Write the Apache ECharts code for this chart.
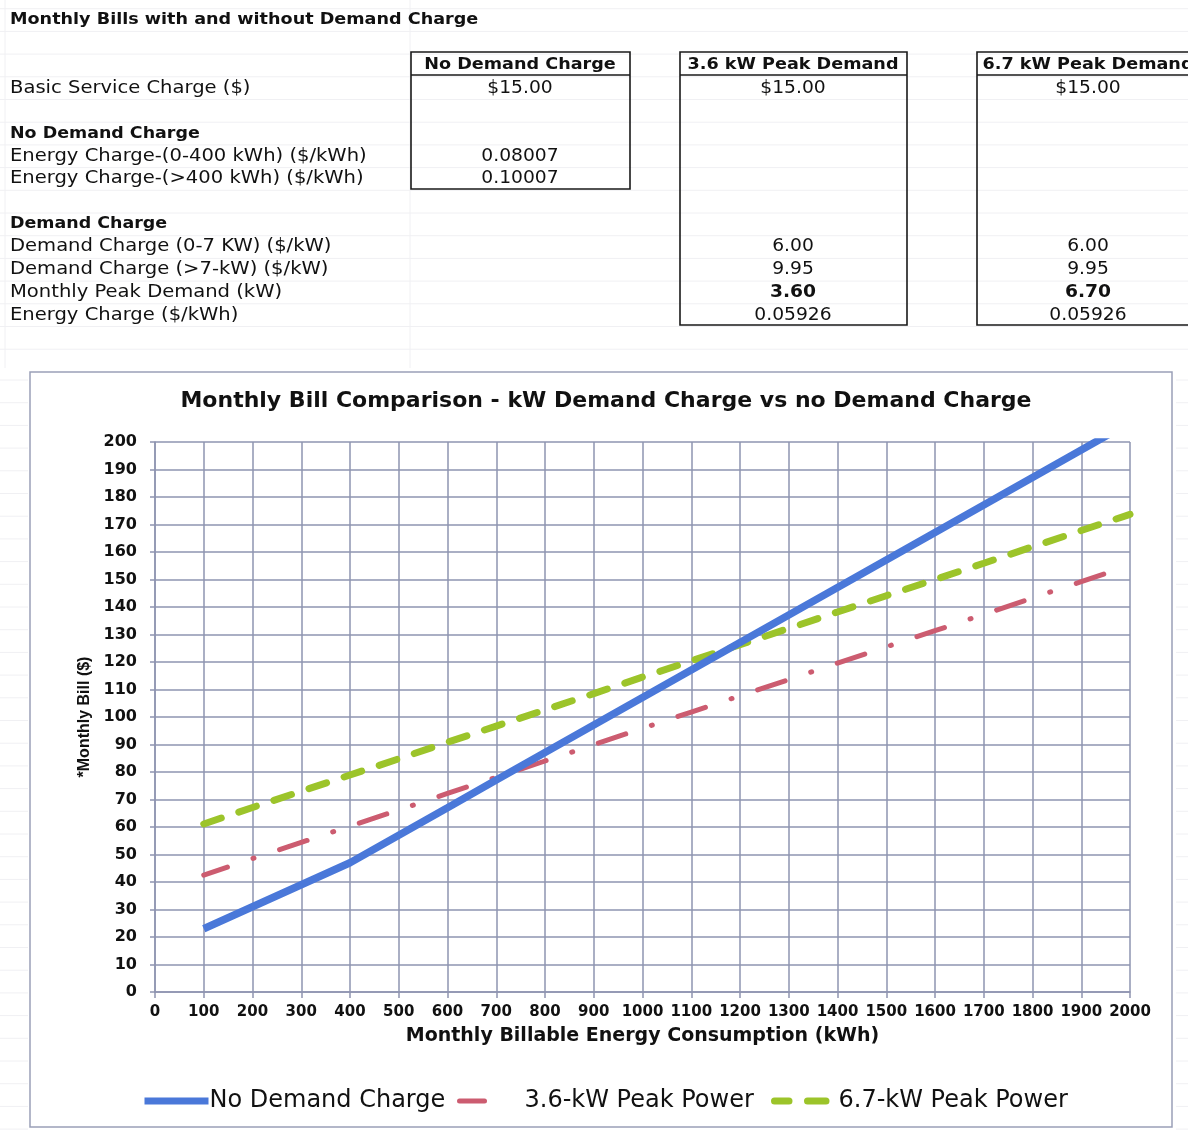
<!DOCTYPE html>
<html>
<head>
<meta charset="utf-8">
<script src="https://cdn.jsdelivr.net/npm/echarts@6/dist/echarts.min.js"></script>
<style>
html,body{margin:0;padding:0;background:#fff;}
#chart{width:1188px;height:1131px;}
</style>
</head>
<body>
<div id="chart"></div>
<script>
// ---------- data ----------
const kwh = [100,200,300,400,500,600,700,800,900,1000,1100,1200,1300,1400,1500,1600,1700,1800,1900,2000];
const noDemand = [23.0,31.0,39.0,47.0,57.0,67.0,77.1,87.1,97.1,107.1,117.1,127.1,137.1,147.1,157.1,167.1,177.1,187.1,197.1,207.1];
const kwh36 = [100,200,300,400,500,600,700,800,900,1000,1100,1200,1300,1400,1500,1600,1700,1800,1900,1950];
const peak36 = [42.5,48.5,54.4,60.3,66.2,72.2,78.1,84.0,89.9,95.9,101.8,107.7,113.6,119.6,125.5,131.4,137.3,143.3,149.2,152.2];
const peak67 = [61.1,67.1,73.0,78.9,84.8,90.8,96.7,102.6,108.5,114.5,120.4,126.3,132.2,138.2,144.1,150.0,155.9,161.9,167.8,173.7];
const seriesNames = ['No Demand Charge','3.6-kW Peak Power','6.7-kW Peak Power'];

const sheetTitle = 'Monthly Bills with and without Demand Charge';
const chartTitle = 'Monthly Bill Comparison - kW Demand Charge vs no Demand Charge';
const xName = 'Monthly Billable Energy Consumption (kWh)';
const yName = '*Monthly Bill ($)';
const colHeaders = ['No Demand Charge','3.6 kW Peak Demand','6.7 kW Peak Demand'];
const rowLabels = [
  ['Basic Service Charge ($)', false],
  ['', false],
  ['No Demand Charge', true],
  ['Energy Charge-(0-400 kWh) ($/kWh)', false],
  ['Energy Charge-(>400 kWh) ($/kWh)', false],
  ['', false],
  ['Demand Charge', true],
  ['Demand Charge (0-7 KW) ($/kW)', false],
  ['Demand Charge (>7-kW) ($/kW)', false],
  ['Monthly Peak Demand (kW)', false],
  ['Energy Charge ($/kWh)', false]
];
const colNoDemand = ['$15.00','','','0.08007','0.10007','','','','','',''];
const col36 = ['$15.00','','','','','','','6.00','9.95','3.60','0.05926'];
const col67 = ['$15.00','','','','','','','6.00','9.95','6.70','0.05926'];
const boldRow = 9;

// ---------- layout ----------
const FF = '"DejaVu Sans", sans-serif';
const rowH = 22.7, row0 = 88.1; // center of first label row
const G = [];
const faint = '#f0f0f3';
for (let i = 0; i < 16; i++) {
  const y = 8.7 + rowH * i;
  G.push({type:'line', z:-20, shape:{x1:0,y1:y,x2:1188,y2:y}, style:{stroke:faint, lineWidth:1}});
}
[5, 410].forEach(x => G.push({type:'line', z:-20, shape:{x1:x,y1:0,x2:x,y2:368}, style:{stroke:faint, lineWidth:1}}));
for (let y = 380; y < 1131; y += rowH) {
  G.push({type:'line', z:-20, shape:{x1:1176,y1:y,x2:1188,y2:y}, style:{stroke:faint, lineWidth:1}});
  G.push({type:'line', z:-20, shape:{x1:0,y1:y,x2:28,y2:y}, style:{stroke:faint, lineWidth:1}});
}
// sheet title
G.push({type:'text', x:10, y:20, scaleX:1.1, style:{text:sheetTitle, font:'bold 16px ' + FF, fill:'#111', verticalAlign:'middle'}});
// row labels
rowLabels.forEach((r, i) => {
  if (!r[0]) return;
  G.push({type:'text', x:10, y:row0 + rowH * i, scaleX: r[1] ? 1.09 : 1.15,
    style:{text:r[0], font:(r[1] ? 'bold 16px ' : '17px ') + FF, fill:'#111', verticalAlign:'middle'}});
});
// boxes
const boxes = [
  {x:411, w:219, bottom:189, cx:520, header:colHeaders[0], vals:colNoDemand},
  {x:680, w:227, bottom:325, cx:793, header:colHeaders[1], vals:col36},
  {x:977, w:260, bottom:325, cx:1088, header:colHeaders[2], vals:col67}
];
boxes.forEach(b => {
  G.push({type:'rect', shape:{x:b.x, y:52, width:b.w, height:b.bottom - 52}, style:{fill:'none', stroke:'#1a1a1a', lineWidth:1.6}});
  G.push({type:'line', shape:{x1:b.x, y1:75, x2:b.x + b.w, y2:75}, style:{stroke:'#1a1a1a', lineWidth:1.6}});
  G.push({type:'text', x:b.cx, y:65, scaleX:1.1, style:{text:b.header, font:'bold 16px ' + FF, fill:'#111', align:'center', verticalAlign:'middle'}});
  b.vals.forEach((v, i) => {
    if (!v) return;
    G.push({type:'text', x:b.cx, y:row0 + rowH * i, scaleX:1.1,
      style:{text:v, font:(i === boldRow ? 'bold ' : '') + '17px ' + FF, fill:'#111', align:'center', verticalAlign:'middle'}});
  });
});
// chart frame
G.push({type:'rect', z:-10, shape:{x:30, y:372, width:1142, height:755}, style:{fill:'#fff', stroke:'#9aa0b8', lineWidth:1.5}});

const gridColor = '#8e94b0';
const legendText = {fontFamily: FF, fontSize: 24, color: '#111'};
const chart = echarts.init(document.getElementById('chart'));
chart.setOption({
  backgroundColor: '#fff',
  animation: false,
  title: {
    text: chartTitle, left: 601, top: 385, textAlign: 'center',
    textStyle: {fontFamily: FF, fontWeight: 'bold', fontSize: 22, color: '#111'}
  },
  graphic: G,
  grid: {left: 155, right: 58, top: 442, bottom: 139},
  xAxis: {
    type: 'value', min: 0, max: 2000, interval: 100,
    name: xName, nameLocation: 'middle', nameGap: 35,
    nameTextStyle: {fontFamily: FF, fontWeight: 'bold', fontSize: 19, color: '#111'},
    axisLine: {show: true, lineStyle: {color: gridColor, width: 1.5}},
    axisTick: {show: true, length: 6, lineStyle: {color: gridColor, width: 1.5}},
    axisLabel: {margin: 13, fontFamily: FF, fontWeight: 'bold', fontSize: 15, color: '#111', formatter: v => String(v)},
    splitLine: {show: true, lineStyle: {color: gridColor, width: 1.5}}
  },
  yAxis: {
    type: 'value', min: 0, max: 200, interval: 10,
    name: yName, nameLocation: 'middle', nameGap: 61, nameRotate: 90,
    nameTextStyle: {fontFamily: '"Liberation Sans", Arial, sans-serif', fontWeight: 'bold', fontSize: 16, color: '#111'},
    axisLine: {show: true, lineStyle: {color: gridColor, width: 1.5}},
    axisTick: {show: true, length: 5, lineStyle: {color: gridColor, width: 1.5}},
    axisLabel: {margin: 18, fontFamily: FF, fontWeight: 'bold', fontSize: 16, color: '#111'},
    splitLine: {show: true, lineStyle: {color: gridColor, width: 1.5}}
  },
  legend: [
    {data: [seriesNames[0]], left: 141, top: 1089, padding: 0, itemWidth: 64, itemHeight: 10, itemGap: 0,
     itemStyle: {opacity: 0}, lineStyle: {width: 7},
     textStyle: Object.assign({padding: [0, 0, 0, -4]}, legendText)},
    {data: [seriesNames[1]], left: 457, top: 1089, padding: 0, itemWidth: 33, itemHeight: 10, itemGap: 0,
     itemStyle: {opacity: 0}, lineStyle: {width: 5},
     textStyle: Object.assign({padding: [0, 0, 0, 27]}, legendText)},
    {data: [seriesNames[2]], left: 771, top: 1089, padding: 0, itemWidth: 64, itemHeight: 10, itemGap: 0,
     itemStyle: {opacity: 0}, lineStyle: {width: 7},
     textStyle: Object.assign({padding: [0, 0, 0, -5]}, legendText)}
  ],
  series: [
    {name: seriesNames[0], type: 'line', symbol: 'none', clip: true, z: 4,
     data: kwh.map((k, i) => [k, noDemand[i]]),
     lineStyle: {color: '#4a78d9', width: 7.5}, itemStyle: {color: '#4a78d9'}},
    {name: seriesNames[1], type: 'line', symbol: 'none', clip: true, z: 3,
     data: kwh36.map((k, i) => [k, peak36[i]]),
     lineStyle: {color: '#cc5c70', width: 5, cap: 'round', type: [29, 27, 1, 27], dashOffset: 4}, itemStyle: {color: '#cc5c70'}},
    {name: seriesNames[2], type: 'line', symbol: 'none', clip: true, z: 3,
     data: kwh.map((k, i) => [k, peak67[i]]),
     lineStyle: {color: '#9cc42a', width: 7, cap: 'round', type: [18.5, 18.5]}, itemStyle: {color: '#9cc42a'}}
  ]
});
</script>
</body>
</html>
